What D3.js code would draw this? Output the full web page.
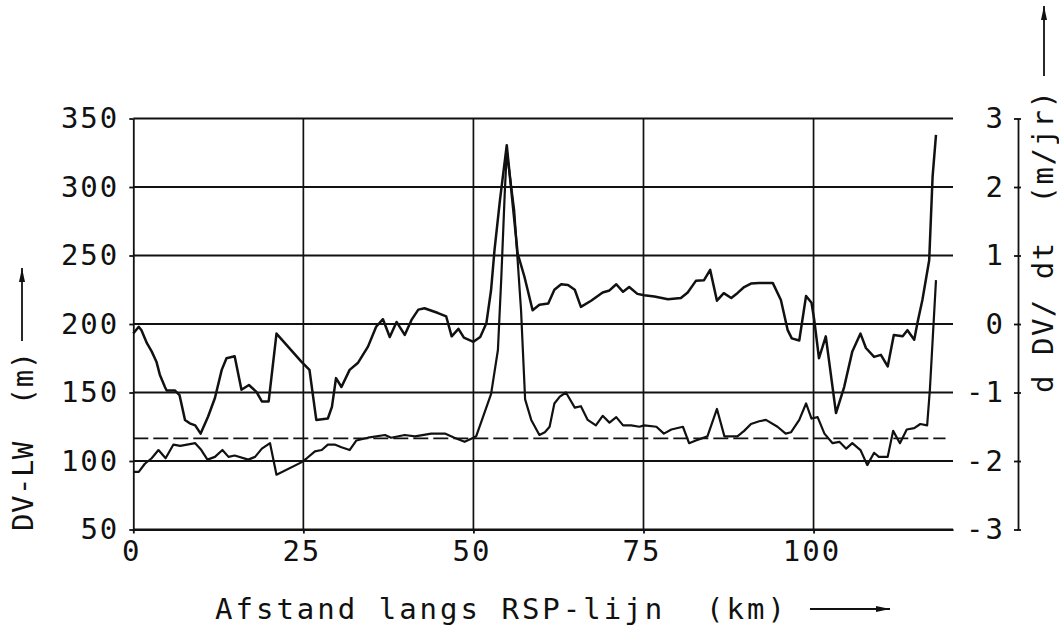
<!DOCTYPE html>
<html>
<head>
<meta charset="utf-8">
<script src="https://cdn.jsdelivr.net/npm/d3@7"></script>
<style>
  body { margin: 0; background: #fff; }
  svg { display: block; }
  text { font-family: "DejaVu Sans Mono", "Liberation Mono", monospace; fill: #111; }
</style>
</head>
<body>
<div id="chart"></div>
<script>
// afstand (km) en waarden
const dvlwKm = [0, 0.8, 1.7, 2.7, 3.7, 4.75, 5.9, 6.9, 9.1, 10, 10.9, 12, 13.1, 14, 14.9, 16.9, 17.9, 18.9, 20.1,
  21.05, 24.7, 25.5, 26.7, 27.7, 28.6, 29.6, 30.6, 31.8, 32.8, 34.5, 37, 37.9, 39.9, 41.4, 43.8, 45.8, 47.2, 48.7,
  50, 50.4, 51.4, 52.6, 53.6, 54.1, 54.6, 54.9, 56, 57, 57.6, 58.5, 59.7, 60.5, 61.2, 61.9, 62.7, 63.6, 64.9, 65.8,
  66.8, 68, 69, 70, 71, 72, 73.2, 74.4, 75.1, 76.9, 78, 79.1, 80.8, 81.7, 82.7, 84.4, 85.8, 86.9, 88.8, 89.8, 90.8,
  92, 93, 94.7, 95.9, 96.7, 97.9, 98.9, 99.7, 100.6, 101.6, 102.8, 103.8, 104.8, 105.7, 106.9, 107.9, 108.9, 109.6,
  110.9, 111.7, 112.7, 113.7, 114.8, 115.7, 116.7, 117.1, 118];
const dvlwVal = [92, 92, 98, 102, 108, 102, 112, 111, 113, 108, 101, 103, 108, 103, 104, 101, 103, 109, 113,
  90, 99, 102, 107, 108, 112, 112, 110, 108, 115, 117, 119, 117, 119, 118, 120, 120, 117, 114,
  117, 118, 132, 149, 181, 234, 295, 326, 283, 210, 145, 130, 119, 121, 125, 142, 147, 150, 139, 140,
  130, 126, 133, 128, 132, 126, 126, 125, 126, 125, 120, 123, 125, 113, 115, 118, 138, 118, 118, 122, 127,
  129, 130, 125, 120, 121, 130, 142, 131, 132, 120, 113, 114, 109, 113, 108, 97, 106, 103,
  103, 122, 113, 123, 124, 127, 126, 152, 232];

const dvdtKm = [0, 0.8, 1.2, 2, 2.7, 3.4, 3.9, 4.65, 4.9, 6.1, 6.8, 7.6, 8.3, 9.1, 9.9, 11, 12, 13, 13.7, 14.9,
  15.9, 17, 18.1, 18.9, 19.9, 21.05, 24.7, 25.9, 26.9, 28.6, 29.2, 29.8, 30.6, 31.8, 33, 34.5, 35.7, 36.7, 37.7,
  38.7, 39.9, 40.9, 41.9, 42.8, 44.8, 46, 46.8, 47.8, 48.6, 50, 51, 51.9, 52.6, 53.1, 53.9, 54.9, 56.5, 57.5,
  58.7, 59.7, 61, 61.9, 62.9, 63.9, 64.9, 65.8, 67.3, 69, 70, 71, 72, 72.9, 74.1, 75.1, 76.6, 78.6, 80.5, 81.5,
  82.7, 83.9, 84.8, 85.8, 86.8, 87.9, 88.8, 89.8, 90.8, 92, 94, 95.2, 96.2, 96.8, 97.9, 98.9, 99.7, 100.1,
  100.8, 101.8, 103.3, 104.5, 105.7, 106.9, 107.7, 108.9, 109.9, 110.9, 111.8, 113.1, 113.8, 114.8, 115.3,
  116, 117, 117.5, 118];
const dvdtVal = [-0.14, -0.04, -0.09, -0.28, -0.40, -0.55, -0.74, -0.92, -0.97, -0.97, -1.04, -1.40, -1.45, -1.48,
  -1.60, -1.35, -1.08, -0.67, -0.50, -0.47, -0.96, -0.89, -0.99, -1.13, -1.13, -0.14, -0.55, -0.67, -1.40, -1.38,
  -1.21, -0.79, -0.92, -0.67, -0.57, -0.33, -0.04, 0.07, -0.19, 0.03, -0.16, 0.06, 0.21, 0.23, 0.16, 0.11, -0.18,
  -0.07, -0.20, -0.26, -0.19, 0.01, 0.50, 1.08, 1.81, 2.61, 1.03, 0.69, 0.20, 0.28, 0.30, 0.50, 0.58, 0.57, 0.50,
  0.25, 0.34, 0.46, 0.49, 0.58, 0.47, 0.54, 0.44, 0.42, 0.40, 0.36, 0.38, 0.46, 0.63, 0.64, 0.79, 0.34, 0.45,
  0.38, 0.45, 0.54, 0.59, 0.60, 0.60, 0.35, -0.09, -0.21, -0.24, 0.41, 0.31, 0.06, -0.50, -0.18, -1.30, -0.92,
  -0.40, -0.14, -0.35, -0.48, -0.45, -0.62, -0.16, -0.18, -0.09, -0.23, 0.03, 0.35, 0.93, 2.15, 2.76];

const meanDvlw = 116.5;

const xTicks = [0, 25, 50, 75, 100];
const leftTicks = [50, 100, 150, 200, 250, 300, 350];
const rightTicks = [-3, -2, -1, 0, 1, 2, 3];

const W = 1059, H = 641;
const svg = d3.select("#chart").append("svg")
  .attr("width", W).attr("height", H);

svg.append("rect").attr("width", W).attr("height", H).attr("fill", "#fff");

const x = d3.scaleLinear().domain([0, 120.5]).range([133.3, 953]);
const yL = d3.scaleLinear().domain([50, 350]).range([529.5, 118.5]);
const yR = d3.scaleLinear().domain([-3, 3]).range([529.5, 118.5]);

// grid
svg.append("g")
  .selectAll("line")
  .data(leftTicks)
  .join("line")
    .attr("x1", x(0)).attr("x2", x(120.5))
    .attr("y1", d => yL(d)).attr("y2", d => yL(d))
    .attr("stroke", "#111").attr("stroke-width", 2);

svg.append("g")
  .selectAll("line")
  .data(xTicks.slice(1))
  .join("line")
    .attr("x1", d => x(d)).attr("x2", d => x(d))
    .attr("y1", yL(350)).attr("y2", yL(50))
    .attr("stroke", "#111").attr("stroke-width", 1.7);

// axes
const fs = 29;
const axL = svg.append("g")
  .attr("transform", `translate(${x(0)},0)`)
  .call(d3.axisLeft(yL).tickValues(leftTicks).tickSize(4).tickSizeOuter(0).tickPadding(10));
const axB = svg.append("g")
  .attr("transform", `translate(0,${yL(50)})`)
  .call(d3.axisBottom(x).tickValues(xTicks).tickSize(4).tickSizeOuter(0).tickPadding(7));
const axR = svg.append("g")
  .attr("transform", "translate(1018,0)")
  .call(d3.axisLeft(yR).tickValues(rightTicks).tickSize(4).tickSizeOuter(0).tickPadding(9)
    .tickFormat(d => d < 0 ? "-" + Math.abs(d) : d));
axR.selectAll(".tick").append("line").attr("x2", 3);

[axL, axB, axR].forEach(a => {
  a.selectAll("path, line").attr("stroke", "#111").attr("stroke-width", 1.8);
  a.selectAll("text").attr("font-size", fs).attr("letter-spacing", 2)
    .attr("font-family", "DejaVu Sans Mono").attr("fill", "#111");
});
axB.selectAll("text").attr("dx", -2);

// mean line (dashed)
svg.append("line")
  .attr("x1", x(0)).attr("x2", x(119.4))
  .attr("y1", yL(meanDvlw)).attr("y2", yL(meanDvlw))
  .attr("stroke", "#111").attr("stroke-width", 1.7)
  .attr("stroke-dasharray", "15,5");

// series
const dvlw = dvlwKm.map((k, i) => [k, dvlwVal[i]]);
const dvdt = dvdtKm.map((k, i) => [k, dvdtVal[i]]);

svg.append("path")
  .datum(dvlw)
  .attr("d", d3.line().x(d => x(d[0])).y(d => yL(d[1])))
  .attr("fill", "none").attr("stroke", "#111").attr("stroke-width", 2.2)
  .attr("stroke-linejoin", "round");

svg.append("path")
  .datum(dvdt)
  .attr("d", d3.line().x(d => x(d[0])).y(d => yR(d[1])))
  .attr("fill", "none").attr("stroke", "#111").attr("stroke-width", 2.5)
  .attr("stroke-linejoin", "round");

// arrow marker
svg.append("defs").append("marker")
  .attr("id", "arr")
  .attr("viewBox", "0 0 14 6")
  .attr("refX", 14).attr("refY", 3)
  .attr("markerWidth", 14).attr("markerHeight", 6)
  .attr("markerUnits", "userSpaceOnUse")
  .attr("orient", "auto")
  .append("path").attr("d", "M0,0 L14,3 L0,6 Z").attr("fill", "#111");

// titles
svg.append("text")
  .attr("x", 215).attr("y", 619)
  .attr("font-size", fs).attr("letter-spacing", 3)
  .attr("xml:space", "preserve")
  .text("Afstand langs RSP-lijn  (km)");
svg.append("line")
  .attr("x1", 810).attr("x2", 890).attr("y1", 609).attr("y2", 609)
  .attr("stroke", "#111").attr("stroke-width", 1.8).attr("marker-end", "url(#arr)");

svg.append("text")
  .attr("transform", "translate(33,531) rotate(-90)")
  .attr("font-size", fs).attr("letter-spacing", 0.5)
  .attr("xml:space", "preserve")
  .text("DV-LW  (m)");
svg.append("line")
  .attr("x1", 22).attr("x2", 22).attr("y1", 341).attr("y2", 268)
  .attr("stroke", "#111").attr("stroke-width", 1.8).attr("marker-end", "url(#arr)");

svg.append("text")
  .attr("transform", "translate(1053,393) rotate(-90)")
  .attr("font-size", fs).attr("letter-spacing", 1.5)
  .attr("xml:space", "preserve")
  .text("d DV/ dt  (m/jr)");
svg.append("line")
  .attr("x1", 1044).attr("x2", 1044).attr("y1", 76).attr("y2", 6)
  .attr("stroke", "#111").attr("stroke-width", 1.8).attr("marker-end", "url(#arr)");
</script>
</body>
</html>
